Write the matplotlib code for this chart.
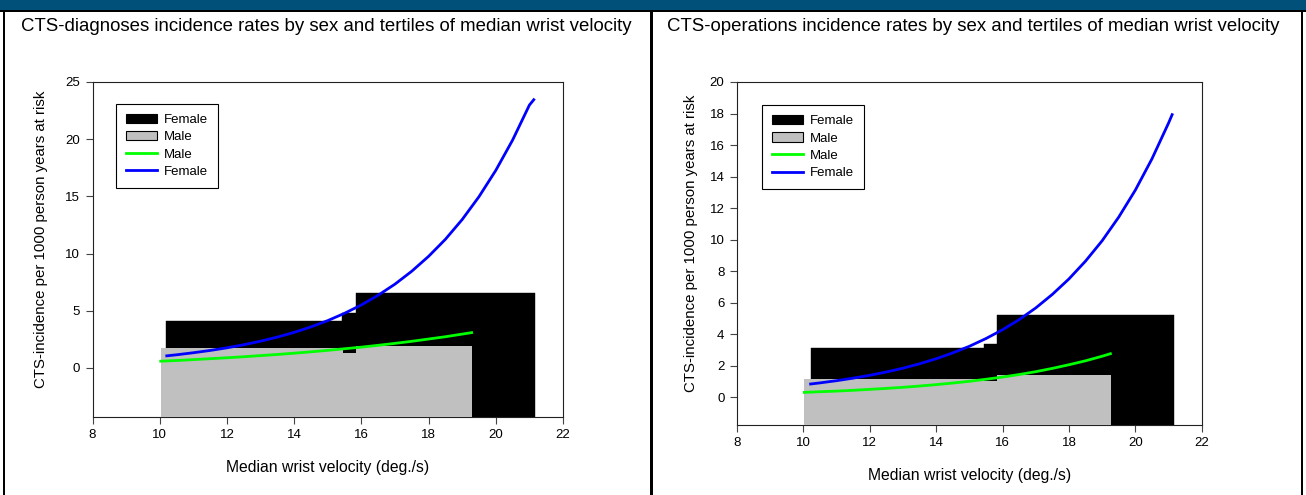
import numpy as np
import matplotlib
matplotlib.use("Agg")
import matplotlib.pyplot as plt
from matplotlib.patches import Rectangle, Patch
from matplotlib.lines import Line2D

plt.rcParams['font.family'] = ['Liberation Sans', 'DejaVu Sans']

# tertile bars: edges along velocity axis and incidence rate of each bar
diag_female_edges = [10.20, 15.42, 15.83, 21.16]
diag_female_rate = [4.13, 4.83, 6.52]
diag_male_edges = [10.03, 15.46, 15.83, 19.29]
diag_male_rate = [1.72, 1.34, 1.92]

oper_female_edges = [10.22, 15.43, 15.83, 21.17]
oper_female_rate = [3.16, 3.40, 5.20]
oper_male_edges = [10.02, 15.43, 15.83, 19.26]
oper_male_rate = [1.15, 1.02, 1.42]

# fitted curves
diag_female_vel = [10.21, 10.5, 11, 11.5, 12, 12.5, 13, 13.5, 14, 14.5, 15, 15.5, 16,
                   16.5, 17, 17.5, 18, 18.5, 19, 19.5, 20, 20.5, 21, 21.13]
diag_female_fit = [1.05, 1.14, 1.32, 1.52, 1.75, 2.02, 2.33, 2.69, 3.10, 3.58, 4.13, 4.77, 5.50,
                   6.35, 7.32, 8.45, 9.75, 11.24, 12.97, 14.97, 17.27, 19.92, 22.98, 23.45]
diag_male_vel = [10.03, 10.5, 11, 11.5, 12, 12.5, 13, 13.5, 14, 14.5, 15, 15.5, 16,
                 16.5, 17, 17.5, 18, 18.5, 19, 19.28]
diag_male_fit = [0.58, 0.64, 0.72, 0.80, 0.88, 0.97, 1.07, 1.17, 1.28, 1.40, 1.53, 1.67, 1.81,
                 1.97, 2.14, 2.32, 2.52, 2.72, 2.95, 3.08]

oper_female_vel = [10.22, 10.5, 11, 11.5, 12, 12.5, 13, 13.5, 14, 14.5, 15, 15.5, 16,
                   16.5, 17, 17.5, 18, 18.5, 19, 19.5, 20, 20.5, 21, 21.11]
oper_female_fit = [0.85, 0.92, 1.06, 1.22, 1.40, 1.61, 1.85, 2.13, 2.45, 2.82, 3.24, 3.73, 4.29,
                   4.93, 5.67, 6.53, 7.51, 8.64, 9.93, 11.43, 13.14, 15.12, 17.39, 17.93]
oper_male_vel = [10.03, 10.5, 11, 11.5, 12, 12.5, 13, 13.5, 14, 14.5, 15, 15.5, 16,
                 16.5, 17, 17.5, 18, 18.5, 19, 19.25]
oper_male_fit = [0.32, 0.36, 0.40, 0.45, 0.51, 0.57, 0.64, 0.72, 0.81, 0.91, 1.02, 1.15, 1.29,
                 1.45, 1.63, 1.84, 2.07, 2.32, 2.61, 2.77]

W, H = 1306, 495
fig = plt.figure(figsize=(W / 100, H / 100), dpi=100)


def px_rect(x, y, w, h, color):
    fig.add_artist(Rectangle((x / W, 1 - (y + h) / H), w / W, h / H,
                             transform=fig.transFigure, color=color, lw=0))


# frame around the two panels
px_rect(0, 0, W, 9.5, '#00507A')
px_rect(0, 9.5, W, 2.2, 'black')
px_rect(3, 9.5, 2.2, H, 'black')
px_rect(649.5, 9.5, 3.5, H, 'black')
px_rect(1300.5, 9.5, 2.5, H, 'black')

BASE = -20  # bars start below the visible area


def draw_panel(rect, title, title_x, f_edges, f_rate, m_edges, m_rate,
               f_vel, f_fit, m_vel, m_fit, ylim, yticks, ylab_x, leg_anchor):
    ax = fig.add_axes(rect)
    fe = np.array(f_edges)
    me = np.array(m_edges)
    ax.bar(fe[:-1], np.array(f_rate) - BASE, width=np.diff(fe), bottom=BASE, align='edge',
           color='black', edgecolor='black', lw=0.3, zorder=2)
    ax.bar(me[:-1], np.array(m_rate) - BASE, width=np.diff(me), bottom=BASE, align='edge',
           color='#C0C0C0', edgecolor='none', lw=0, zorder=3)
    ax.plot(m_vel, m_fit, color='#00FF00', lw=2.0, zorder=4)
    ax.plot(f_vel, f_fit, color='#0000FF', lw=2.0, zorder=5)

    ax.set_xlim(8, 22)
    ax.set_xticks(range(8, 23, 2))
    ax.set_ylim(*ylim)
    ax.set_yticks(yticks)
    for s in ax.spines.values():
        s.set_linewidth(0.8)
        s.set_color('#222222')
    ax.tick_params(direction='out', length=5, width=0.8, pad=4, labelsize=9.5, color='#444444')
    ax.set_xlabel('Median wrist velocity (deg./s)', fontsize=11.3, labelpad=13)
    ax.set_ylabel('CTS-incidence per 1000 person years at risk', fontsize=10.8)
    ax.yaxis.set_label_coords(ylab_x, 0.53)

    handles = [Patch(facecolor='black', edgecolor='black', lw=0.8),
               Patch(facecolor='#C0C0C0', edgecolor='black', lw=0.8),
               Line2D([], [], color='#00FF00', lw=2),
               Line2D([], [], color='#0000FF', lw=2)]
    leg = ax.legend(handles, ['Female', 'Male', 'Male', 'Female'], loc='upper left',
                    bbox_to_anchor=leg_anchor, borderaxespad=0, fontsize=9.5,
                    labelspacing=0.38, handlelength=2.35, handletextpad=0.5,
                    borderpad=0.75, fancybox=False, framealpha=1, edgecolor='black')
    leg.get_frame().set_linewidth(0.8)

    fig.text(title_x / W, 1 - 31 / H, title, fontsize=13.4, ha='left', va='baseline')
    return ax


draw_panel([92.5 / W, 1 - 417 / H, 470.5 / W, 335 / H],
           'CTS-diagnoses incidence rates by sex and tertiles of median wrist velocity', 21,
           diag_female_edges, diag_female_rate, diag_male_edges, diag_male_rate,
           diag_female_vel, diag_female_fit, diag_male_vel, diag_male_fit,
           (-4.3, 25), range(0, 26, 5), -0.095, (0.05, 0.934))

draw_panel([736.9 / W, 1 - 425 / H, 464.8 / W, 343 / H],
           'CTS-operations incidence rates by sex and tertiles of median wrist velocity', 667,
           oper_female_edges, oper_female_rate, oper_male_edges, oper_male_rate,
           oper_female_vel, oper_female_fit, oper_male_vel, oper_male_fit,
           (-1.75, 20), range(0, 21, 2), -0.084, (0.055, 0.932))

fig.savefig('out.png', dpi=100)
